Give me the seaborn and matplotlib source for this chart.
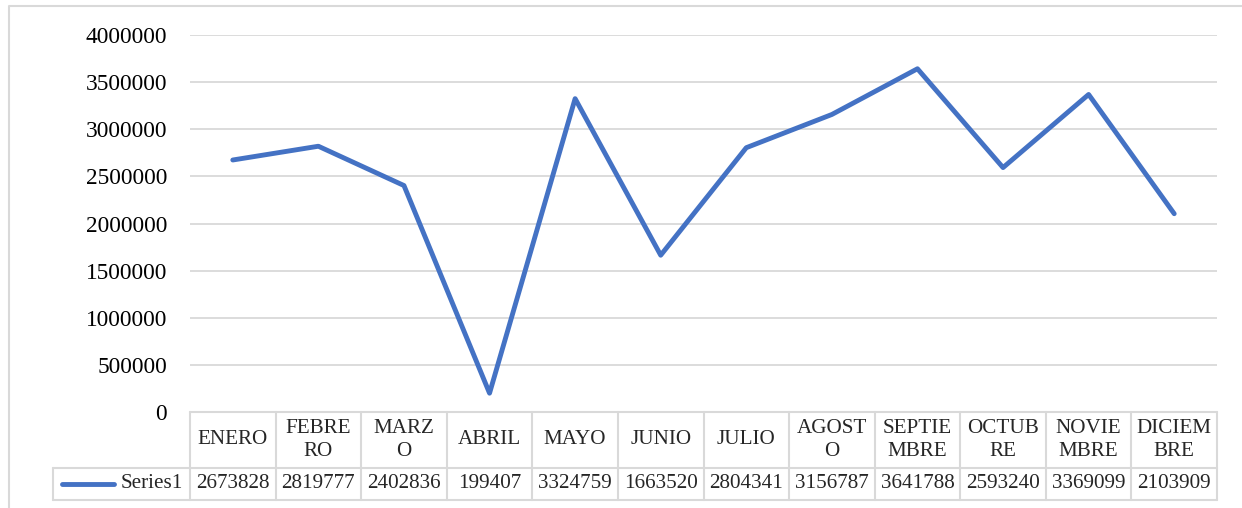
import matplotlib
matplotlib.use("Agg")
import matplotlib.pyplot as plt
import matplotlib.transforms as mtransforms
import pandas as pd
import seaborn as sns

# Data
months = ["ENERO", "FEBRERO", "MARZO", "ABRIL", "MAYO", "JUNIO", "JULIO",
          "AGOSTO", "SEPTIEMBRE", "OCTUBRE", "NOVIEMBRE", "DICIEMBRE"]
header_labels = ["ENERO", "FEBRE\nRO", "MARZ\nO", "ABRIL", "MAYO", "JUNIO", "JULIO",
                 "AGOST\nO", "SEPTIE\nMBRE", "OCTUB\nRE", "NOVIE\nMBRE", "DICIEM\nBRE"]
values = [2673828, 2819777, 2402836, 199407, 3324759, 1663520, 2804341,
          3156787, 3641788, 2593240, 3369099, 2103909]
series_name = "Series1"
y_ticks = [0, 500000, 1000000, 1500000, 2000000, 2500000, 3000000, 3500000, 4000000]

df = pd.DataFrame({"pos": range(len(months)), "month": months, "value": values})

sns.set_style("white")
plt.rcParams["font.family"] = ["Liberation Serif", "DejaVu Serif"]

W, H = 1242, 508
fig = plt.figure(figsize=(W / 100, H / 100), dpi=100)

# plot area in pixels
px_left, px_right, px_top, px_bottom = 190, 1217, 35, 412
ax = fig.add_axes([px_left / W, 1 - px_bottom / H,
                   (px_right - px_left) / W, (px_bottom - px_top) / H])

grid_c = "#D9D9D9"
line_c = "#4472C4"
fs_axis = 16.8
fs_tab = 15.2

for t in y_ticks[1:]:
    ax.axhline(t, color=grid_c, lw=1.3, zorder=0)

sns.lineplot(data=df, x="pos", y="value", ax=ax, color=line_c, lw=3.5,
             solid_capstyle="round", solid_joinstyle="round", zorder=3)

n = len(months)
ax.set_xlim(-0.5, n - 0.5)
ax.set_ylim(0, 4000000)
ax.set_yticks(y_ticks)
ax.set_yticklabels([str(t) for t in y_ticks], fontsize=fs_axis, color="#000000")
ax.tick_params(axis="y", length=0, pad=16.5)
ax.set_xticks([])
ax.set_xlabel("")
ax.set_ylabel("")
for s in ax.spines.values():
    s.set_visible(False)

# data table under the axes: x in data coords, y in figure pixels
trans = mtransforms.blended_transform_factory(ax.transData, fig.transFigure)
row_top, row_mid, row_bot = 412, 468, 500
legend_left = 53

def fy(p):
    return 1 - p / H

# horizontal lines
ax.plot([-0.5, n - 0.5], [fy(row_top)] * 2, transform=trans, color=grid_c,
        lw=1.5, clip_on=False)
fig.add_artist(plt.Line2D([legend_left / W, px_right / W], [fy(row_mid)] * 2,
                          color=grid_c, lw=1.5))
fig.add_artist(plt.Line2D([legend_left / W, px_right / W], [fy(row_bot)] * 2,
                          color=grid_c, lw=1.5))
fig.add_artist(plt.Line2D([legend_left / W] * 2, [fy(row_mid), fy(row_bot)],
                          color=grid_c, lw=1.5))
# vertical column lines
for k in range(n + 1):
    ax.plot([k - 0.5, k - 0.5], [fy(row_top), fy(row_bot)], transform=trans,
            color=grid_c, lw=1.5, clip_on=False)

for i, (lab, v) in enumerate(zip(header_labels, values)):
    ax.text(i, fy((row_top + row_mid) / 2), lab, transform=trans, ha="center",
            va="center", fontsize=fs_tab, linespacing=1.3, clip_on=False)
    ax.text(i, fy((row_mid + row_bot) / 2), str(v), transform=trans, ha="center",
            va="center", fontsize=fs_tab, clip_on=False)

# legend key inside the first cell
fig.add_artist(plt.Line2D([62 / W, 114 / W], [fy(484)] * 2, color=line_c,
                          lw=3.5, solid_capstyle="round"))
fig.text(px_left / W - 0.006, fy(484), series_name, ha="right", va="center",
         fontsize=fs_tab)

# chart border (cut off at right and bottom)
fig.add_artist(plt.Line2D([9 / W, 9 / W, 1.0], [0.0, fy(6), fy(6)],
                          color=grid_c, lw=1.5))

fig.savefig("out.png", dpi=100)
